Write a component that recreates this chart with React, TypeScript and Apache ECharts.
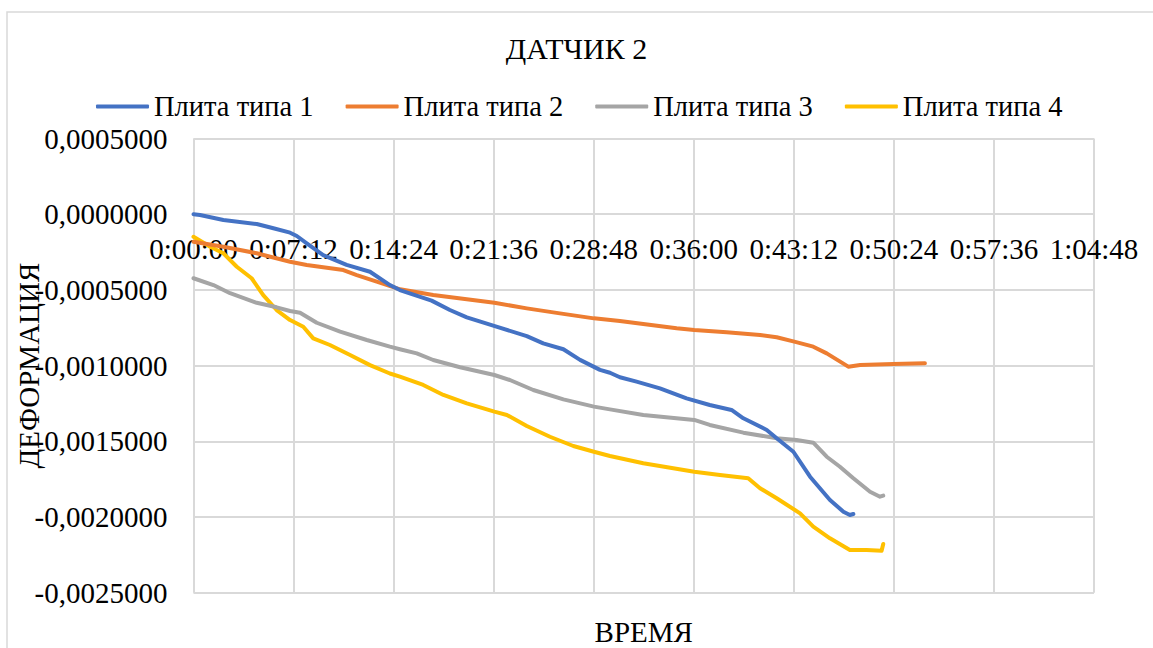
import React, { useEffect, useRef } from "react";
import * as echarts from "echarts";

// ---- Data (time in seconds, deformation values) ----
const seriesNames = ["Плита типа 1", "Плита типа 2", "Плита типа 3", "Плита типа 4"];
const seriesColors = ["#4472C4", "#ED7D31", "#A5A5A5", "#FFC000"];

const type1Time = [0, 28, 129, 273, 345, 417, 446, 489, 560, 661, 762, 848, 891, 1028, 1107, 1180, 1294, 1439, 1510, 1597, 1669, 1755, 1798, 1841, 1913, 2014, 2129, 2229, 2323, 2374, 2475, 2518, 2590, 2662, 2748, 2806, 2834, 2849];
const type1Val = [0, -0.000005, -0.000038, -0.000065, -0.000093, -0.000122, -0.000144, -0.000192, -0.00027, -0.000335, -0.00038, -0.000468, -0.000501, -0.000571, -0.000633, -0.000681, -0.000736, -0.000805, -0.000853, -0.000892, -0.000962, -0.001028, -0.001047, -0.001077, -0.001106, -0.00115, -0.001216, -0.00126, -0.001293, -0.001348, -0.001425, -0.00148, -0.001569, -0.001734, -0.001888, -0.001965, -0.001987, -0.00198];

const type2Time = [0, 129, 273, 417, 489, 647, 705, 791, 892, 1035, 1180, 1299, 1439, 1582, 1729, 1841, 1942, 2086, 2162, 2302, 2446, 2518, 2594, 2676, 2734, 2827, 2878, 3021, 3158];
const type2Val = [-0.000182, -0.000215, -0.000258, -0.000314, -0.000336, -0.000369, -0.000402, -0.000446, -0.000496, -0.000534, -0.000562, -0.000585, -0.000622, -0.000655, -0.000688, -0.000705, -0.000725, -0.000754, -0.000765, -0.00078, -0.000798, -0.000813, -0.000842, -0.000875, -0.000919, -0.001007, -0.000996, -0.000989, -0.000985];

const type3Time = [0, 86, 158, 273, 359, 417, 460, 532, 633, 748, 848, 891, 964, 1035, 1151, 1299, 1366, 1467, 1597, 1729, 1798, 1942, 2162, 2229, 2374, 2518, 2604, 2676, 2734, 2791, 2849, 2921, 2964, 2978];
const type3Val = [-0.000423, -0.000468, -0.000522, -0.000585, -0.000615, -0.000639, -0.000651, -0.000717, -0.000776, -0.000831, -0.000875, -0.000892, -0.000919, -0.000963, -0.001011, -0.001062, -0.001095, -0.001161, -0.001223, -0.001271, -0.001289, -0.001326, -0.001359, -0.001392, -0.001443, -0.00148, -0.001491, -0.001509, -0.001602, -0.001668, -0.001744, -0.001833, -0.001866, -0.001859];

const type4Time = [0, 72, 129, 187, 251, 301, 359, 417, 474, 517, 589, 676, 762, 848, 891, 992, 1079, 1180, 1299, 1353, 1439, 1539, 1640, 1729, 1798, 1942, 2162, 2273, 2395, 2446, 2518, 2619, 2676, 2748, 2834, 2906, 2971, 2978];
const type4Val = [-0.000149, -0.000215, -0.000258, -0.000347, -0.000423, -0.000534, -0.000633, -0.000699, -0.000743, -0.00082, -0.000864, -0.00093, -0.000997, -0.001052, -0.001073, -0.001128, -0.001194, -0.001249, -0.001304, -0.001326, -0.001399, -0.00147, -0.001531, -0.001569, -0.001597, -0.001645, -0.001701, -0.001723, -0.001744, -0.00181, -0.001876, -0.001976, -0.002064, -0.002141, -0.002218, -0.002218, -0.002223, -0.002178];

const allTimes = [type1Time, type2Time, type3Time, type4Time];
const allVals = [type1Val, type2Val, type3Val, type4Val];

// Axis settings
const xMin = 0;
const xMax = 3888; // 1:04:48
const xStep = 432; // 0:07:12
const yMin = -0.0025;
const yMax = 0.0005;
const yStep = 0.0005;

const titleText = "ДАТЧИК 2";
const xName = "ВРЕМЯ";
const yName = "ДЕФОРМАЦИЯ";

const FONT = "'Liberation Serif', 'Times New Roman', serif";

// Layout
const GRID_TOP = 138.5;
const GRID_BOTTOM = 55.3;
const CHART_H = 648;

function pad(n: number) {
  return n < 10 ? "0" + n : "" + n;
}
function fmtTime(s: number) {
  const r = Math.round(s);
  const h = Math.floor(r / 3600);
  const m = Math.floor((r % 3600) / 60);
  const sec = r % 60;
  return `${h}:${pad(m)}:${pad(sec)}`;
}
function fmtVal(v: number) {
  const x = Math.abs(v) < 1e-12 ? 0 : v;
  return x.toFixed(7).replace(".", ",");
}

export default function App() {
  const ref = useRef<HTMLDivElement>(null);
  useEffect(() => {
    if (!ref.current) return;
    const chart = echarts.init(ref.current, undefined, { renderer: "svg" });
    // Position the horizontal axis where the value axis crosses zero (as in the reference)
    const gridH = CHART_H - GRID_TOP - GRID_BOTTOM;
    const zeroFromBottom = gridH * ((0 - yMin) / (yMax - yMin));
    const xAxisOffset = -zeroFromBottom;

    const series = seriesNames.map((name, i) => ({
      name,
      type: "line",
      data: allTimes[i].map((t, j) => [t, allVals[i][j]]),
      symbol: "none",
      showSymbol: false,
      smooth: false,
      lineStyle: { color: seriesColors[i], width: 4, cap: "round", join: "round" },
      itemStyle: { color: seriesColors[i] },
      z: 10 - i,
    }));
    chart.setOption({
      animation: false,
      backgroundColor: "#ffffff",
      title: {
        text: titleText,
        left: "center",
        top: 28,
        textStyle: { fontFamily: FONT, fontSize: 30, fontWeight: "normal", color: "#000" },
      },
      legend: {
        left: 91,
        top: 87,
        icon: "roundRect",
        itemWidth: 53,
        itemHeight: 4,
        itemGap: 32,
        textStyle: { fontFamily: FONT, fontSize: 28.5, color: "#000" },
        data: seriesNames,
      },
      grid: {
        left: 193.5,
        right: 59,
        top: GRID_TOP,
        bottom: GRID_BOTTOM,
        containLabel: false,
        outerBoundsMode: "none",
      },
      xAxis: {
        type: "value",
        position: "bottom",
        offset: xAxisOffset,
        min: xMin,
        max: xMax,
        interval: xStep,
        name: xName,
        nameLocation: "middle",
        nameGap: 403,
        nameMoveOverlap: false,
        nameTextStyle: { fontFamily: FONT, fontSize: 29, color: "#000" },
        axisLine: { show: true, onZero: false, lineStyle: { color: "#d9d9d9", width: 2 } },
        axisTick: { show: false },
        axisLabel: {
          formatter: (v: number) => fmtTime(v),
          fontFamily: FONT,
          fontSize: 29,
          color: "#000",
          margin: 20,
          showMinLabel: true,
          showMaxLabel: true,
          hideOverlap: false,
        },
        splitLine: { show: true, lineStyle: { color: "#d9d9d9", width: 2 } },
      },
      yAxis: {
        type: "value",
        min: yMin,
        max: yMax,
        interval: yStep,
        name: yName,
        nameLocation: "middle",
        nameGap: 150,
        nameMoveOverlap: false,
        nameTextStyle: { fontFamily: FONT, fontSize: 29, color: "#000" },
        axisLine: { show: false, onZero: false },
        axisTick: { show: false },
        axisLabel: {
          formatter: (v: number) => fmtVal(v),
          fontFamily: FONT,
          fontSize: 29,
          color: "#000",
          margin: 26,
        },
        splitLine: { show: true, lineStyle: { color: "#d9d9d9", width: 2 } },
      },
      graphic: [
        {
          type: "rect",
          silent: true,
          z: -10,
          shape: { x: 7, y: 12, width: 1200, height: 700 },
          style: { fill: "none", stroke: "#d9d9d9", lineWidth: 1.5 },
        },
      ],
      series,
    });
    return () => chart.dispose();
  }, []);
  return (
    <div
      ref={ref}
      style={{ position: "fixed", left: 0, top: 0, width: 1153, height: 648, background: "#fff" }}
    />
  );
}
